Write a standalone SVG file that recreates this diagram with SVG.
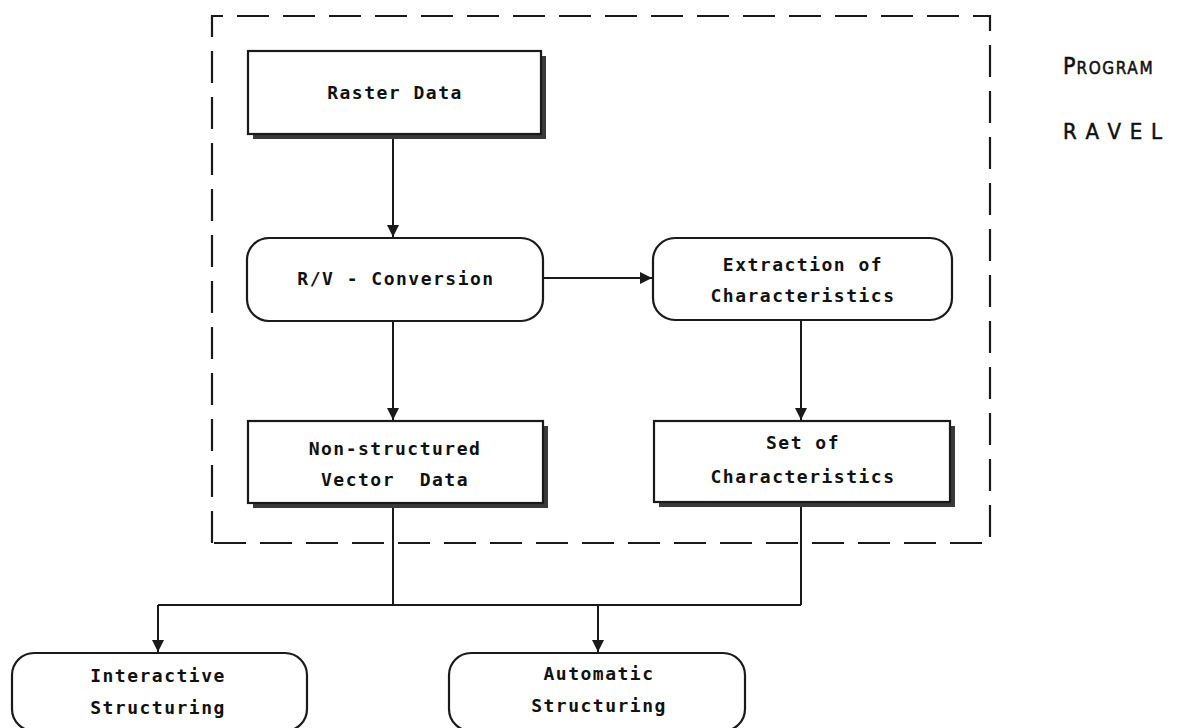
<svg xmlns="http://www.w3.org/2000/svg" width="1177" height="728" viewBox="0 0 1177 728">
  <defs>
    <marker id="arrow" viewBox="0 0 12 16" refX="12" refY="8" markerWidth="12" markerHeight="16" markerUnits="userSpaceOnUse" orient="auto">
      <path d="M0,2 L12,8 L0,14 Z" fill="#1a1a1a"/>
    </marker>
    <style>
      .frame { fill: none; stroke: #1a1a1a; stroke-width: 2.2; stroke-dasharray: 32 14; }
      .box { fill: #ffffff; stroke: #1a1a1a; stroke-width: 2.2; }
      .shadow { fill: #3a3a3a; }
      .wire { fill: none; stroke: #1a1a1a; stroke-width: 2; }
      .lbl { font-family: "DejaVu Sans Mono", "Liberation Mono", monospace; font-weight: bold; font-size: 18px; letter-spacing: 1.5px; fill: #111111; text-anchor: middle; }
      .side { font-family: "DejaVu Sans Condensed", "Liberation Sans Narrow", "Liberation Sans", sans-serif; fill: #111111; stroke: #111111; stroke-width: 0.5; }
    </style>
  </defs>

  <rect width="1177" height="728" fill="#ffffff"/>

  <!-- program boundary -->
  <path class="frame" d="M212,543 L212,16 L990,16 L990,543 Z"/>

  <g id="program-label">
    <text class="side" x="1063" y="74"><tspan font-size="23">P</tspan><tspan font-size="17" dx="1" letter-spacing="1.6">ROGRAM</tspan></text>
    <text class="side" x="1063" y="139" font-size="22" textLength="99" lengthAdjust="spacing">R A V E L</text>
  </g>

  <!-- connectors -->
  <g id="connectors">
    <line class="wire" x1="393" y1="139" x2="393" y2="237" marker-end="url(#arrow)"/>
    <line class="wire" x1="393" y1="321" x2="393" y2="420" marker-end="url(#arrow)"/>
    <line class="wire" x1="543" y1="278" x2="652" y2="278" marker-end="url(#arrow)"/>
    <line class="wire" x1="801" y1="320" x2="801" y2="420" marker-end="url(#arrow)"/>
    <polyline class="wire" points="393,508 393,605"/>
    <polyline class="wire" points="801,507 801,605"/>
    <line class="wire" x1="158" y1="605" x2="801" y2="605"/>
    <line class="wire" x1="158" y1="605" x2="158" y2="652" marker-end="url(#arrow)"/>
    <line class="wire" x1="598" y1="605" x2="598" y2="652" marker-end="url(#arrow)"/>
  </g>

  <g id="raster-data">
    <rect class="shadow" x="253" y="56" width="293" height="83"/>
    <rect class="box" x="248" y="51" width="293" height="83"/>
    <text class="lbl" x="395" y="99">Raster Data</text>
  </g>

  <g id="rv-conversion">
    <rect class="box" x="247" y="238" width="296" height="83" rx="22" ry="22"/>
    <text class="lbl" x="396" y="285">R/V - Conversion</text>
  </g>

  <g id="extraction">
    <rect class="box" x="653" y="238" width="299" height="82" rx="22" ry="22"/>
    <text class="lbl" x="803" y="271">Extraction of</text>
    <text class="lbl" x="803" y="302">Characteristics</text>
  </g>

  <g id="vector-data">
    <rect class="shadow" x="253" y="426" width="295" height="82"/>
    <rect class="box" x="248" y="421" width="295" height="82"/>
    <text class="lbl" x="395" y="455">Non-structured</text>
    <text class="lbl" x="395" y="486" xml:space="preserve">Vector  Data</text>
  </g>

  <g id="characteristics-set">
    <rect class="shadow" x="659" y="426" width="296" height="81"/>
    <rect class="box" x="654" y="421" width="296" height="81"/>
    <text class="lbl" x="803" y="449">Set of</text>
    <text class="lbl" x="803" y="483">Characteristics</text>
  </g>

  <g id="interactive">
    <rect class="box" x="12" y="653" width="295" height="78" rx="22" ry="22"/>
    <text class="lbl" x="158" y="682">Interactive</text>
    <text class="lbl" x="158" y="714">Structuring</text>
  </g>

  <g id="automatic">
    <rect class="box" x="449" y="653" width="296" height="78" rx="22" ry="22"/>
    <text class="lbl" x="599" y="680">Automatic</text>
    <text class="lbl" x="599" y="712">Structuring</text>
  </g>
</svg>
